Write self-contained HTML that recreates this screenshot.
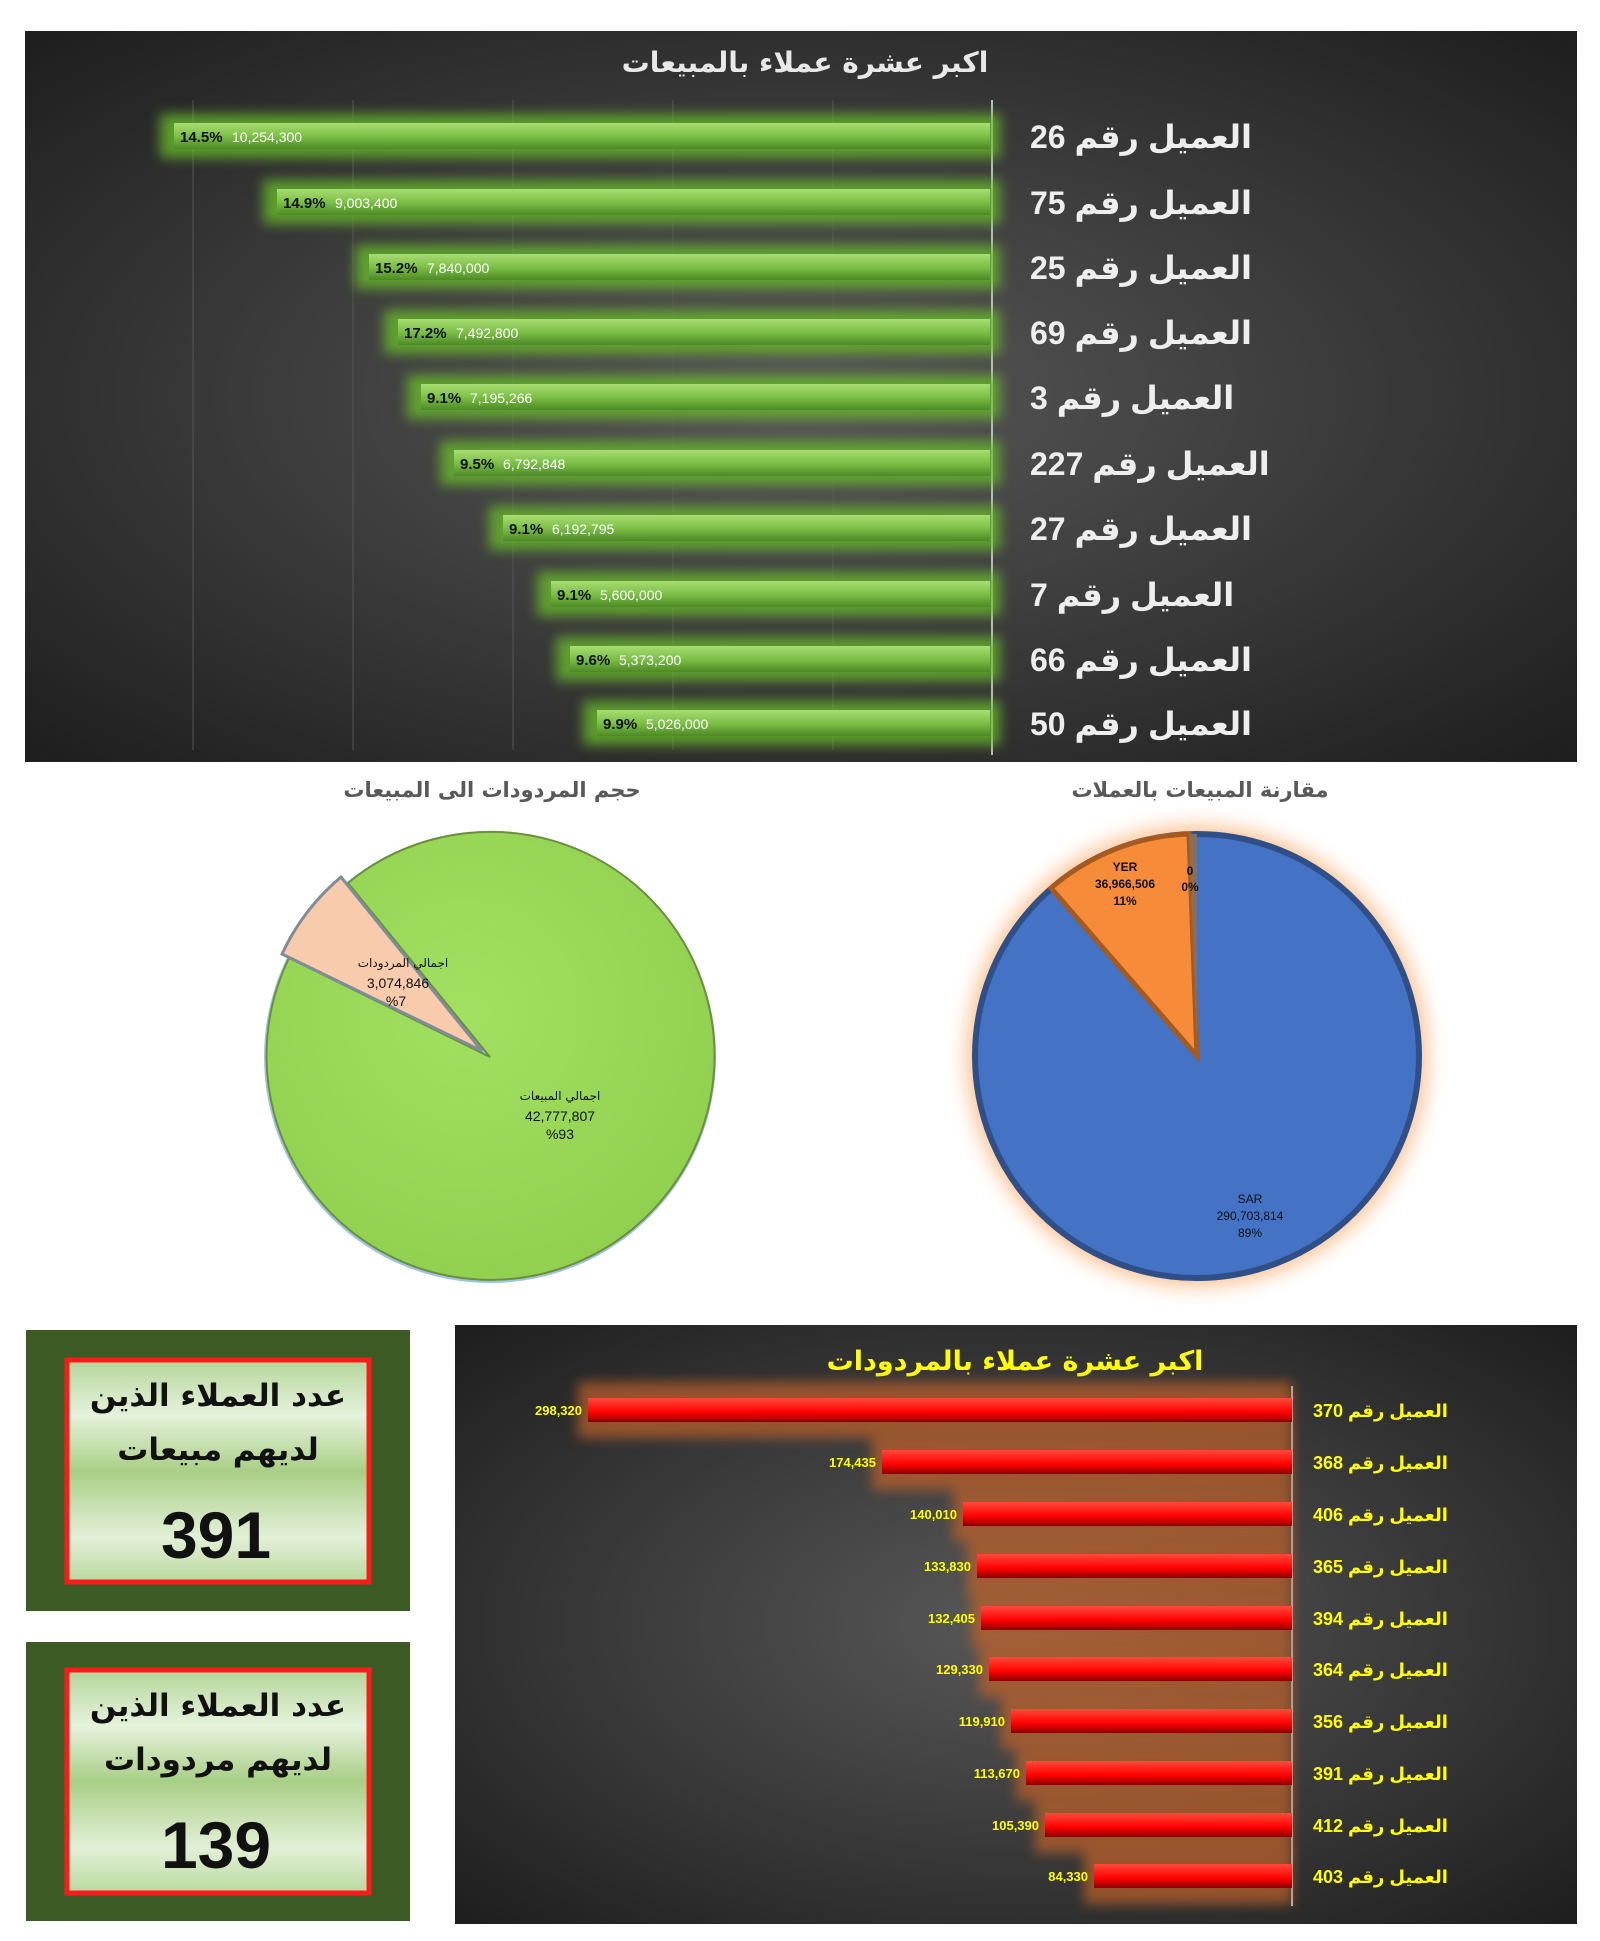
<!DOCTYPE html>
<html><head><meta charset="utf-8"><style>
body{margin:0;background:#fff;width:1600px;height:1941px;overflow:hidden}
svg{display:block}
</style></head><body>
<svg width="1600" height="1941" viewBox="0 0 1600 1941" xmlns="http://www.w3.org/2000/svg" font-family="'Liberation Sans','DejaVu Sans',sans-serif">
<defs>
<radialGradient id="dark" cx="50%" cy="50%" r="70%"><stop offset="0" stop-color="#585858"/><stop offset="1" stop-color="#1e1e1e"/></radialGradient>
<linearGradient id="gbar" x1="0" y1="0" x2="0" y2="1"><stop offset="0" stop-color="#a8dc72"/><stop offset="0.5" stop-color="#7cc047"/><stop offset="1" stop-color="#4d8a26"/></linearGradient>
<linearGradient id="rbar" x1="0" y1="0" x2="0" y2="1"><stop offset="0" stop-color="#ff4a3a"/><stop offset="0.6" stop-color="#ff0000"/><stop offset="1" stop-color="#8a0000"/></linearGradient>
<linearGradient id="box" x1="0" y1="0" x2="0" y2="1"><stop offset="0" stop-color="#b5d69a"/><stop offset="0.25" stop-color="#e6f2dc"/><stop offset="0.5" stop-color="#a9cf86"/><stop offset="0.8" stop-color="#e3f0d8"/><stop offset="1" stop-color="#b9d99d"/></linearGradient>
<filter id="blur" x="-20%" y="-50%" width="140%" height="200%"><feGaussianBlur stdDeviation="6"/></filter>
<filter id="blur2" x="-20%" y="-20%" width="140%" height="140%"><feGaussianBlur stdDeviation="10"/></filter>
<radialGradient id="pg" cx="45%" cy="40%" r="60%"><stop offset="0" stop-color="#a2e062"/><stop offset="1" stop-color="#92d050"/></radialGradient>
</defs>

<rect x="25" y="31" width="1552" height="731" fill="url(#dark)"/>
<text x="805" y="72" font-size="28" font-weight="bold" fill="#e8e8e8" text-anchor="middle" font-family="'DejaVu Sans',sans-serif">اكبر عشرة عملاء بالمبيعات</text>
<g stroke="#555" stroke-width="1">
<line x1="193" y1="100" x2="193" y2="750"/><line x1="353" y1="100" x2="353" y2="750"/><line x1="513" y1="100" x2="513" y2="750"/><line x1="673" y1="100" x2="673" y2="750"/><line x1="833" y1="100" x2="833" y2="750"/>
</g>
<line x1="992" y1="100" x2="992" y2="755" stroke="#bbb" stroke-width="2"/>
<g font-size="15">
<g transform="translate(0,136)"><rect x="160" y="-22" width="840" height="44" fill="#6abf2a" opacity=".75" filter="url(#blur)"/><rect x="174" y="-13" width="816" height="26" fill="url(#gbar)"/><text x="180" y="6" font-weight="bold" fill="#111">14.5%</text><text x="232" y="6" fill="#fff" font-size="14">10,254,300</text><text x="1030" y="12" font-size="32" font-weight="bold" fill="#eee">العميل رقم 26</text></g>
<g transform="translate(0,202)"><rect x="263" y="-22" width="737" height="44" fill="#6abf2a" opacity=".75" filter="url(#blur)"/><rect x="277" y="-13" width="713" height="26" fill="url(#gbar)"/><text x="283" y="6" font-weight="bold" fill="#111">14.9%</text><text x="335" y="6" fill="#fff" font-size="14">9,003,400</text><text x="1030" y="12" font-size="32" font-weight="bold" fill="#eee">العميل رقم 75</text></g>
<g transform="translate(0,267)"><rect x="355" y="-22" width="645" height="44" fill="#6abf2a" opacity=".75" filter="url(#blur)"/><rect x="369" y="-13" width="621" height="26" fill="url(#gbar)"/><text x="375" y="6" font-weight="bold" fill="#111">15.2%</text><text x="427" y="6" fill="#fff" font-size="14">7,840,000</text><text x="1030" y="12" font-size="32" font-weight="bold" fill="#eee">العميل رقم 25</text></g>
<g transform="translate(0,332)"><rect x="384" y="-22" width="616" height="44" fill="#6abf2a" opacity=".75" filter="url(#blur)"/><rect x="398" y="-13" width="592" height="26" fill="url(#gbar)"/><text x="404" y="6" font-weight="bold" fill="#111">17.2%</text><text x="456" y="6" fill="#fff" font-size="14">7,492,800</text><text x="1030" y="12" font-size="32" font-weight="bold" fill="#eee">العميل رقم 69</text></g>
<g transform="translate(0,397)"><rect x="407" y="-22" width="593" height="44" fill="#6abf2a" opacity=".75" filter="url(#blur)"/><rect x="421" y="-13" width="569" height="26" fill="url(#gbar)"/><text x="427" y="6" font-weight="bold" fill="#111">9.1%</text><text x="470" y="6" fill="#fff" font-size="14">7,195,266</text><text x="1030" y="12" font-size="32" font-weight="bold" fill="#eee">العميل رقم 3</text></g>
<g transform="translate(0,463)"><rect x="440" y="-22" width="560" height="44" fill="#6abf2a" opacity=".75" filter="url(#blur)"/><rect x="454" y="-13" width="536" height="26" fill="url(#gbar)"/><text x="460" y="6" font-weight="bold" fill="#111">9.5%</text><text x="503" y="6" fill="#fff" font-size="14">6,792,848</text><text x="1030" y="12" font-size="32" font-weight="bold" fill="#eee">العميل رقم 227</text></g>
<g transform="translate(0,528)"><rect x="489" y="-22" width="511" height="44" fill="#6abf2a" opacity=".75" filter="url(#blur)"/><rect x="503" y="-13" width="487" height="26" fill="url(#gbar)"/><text x="509" y="6" font-weight="bold" fill="#111">9.1%</text><text x="552" y="6" fill="#fff" font-size="14">6,192,795</text><text x="1030" y="12" font-size="32" font-weight="bold" fill="#eee">العميل رقم 27</text></g>
<g transform="translate(0,594)"><rect x="537" y="-22" width="463" height="44" fill="#6abf2a" opacity=".75" filter="url(#blur)"/><rect x="551" y="-13" width="439" height="26" fill="url(#gbar)"/><text x="557" y="6" font-weight="bold" fill="#111">9.1%</text><text x="600" y="6" fill="#fff" font-size="14">5,600,000</text><text x="1030" y="12" font-size="32" font-weight="bold" fill="#eee">العميل رقم 7</text></g>
<g transform="translate(0,659)"><rect x="556" y="-22" width="444" height="44" fill="#6abf2a" opacity=".75" filter="url(#blur)"/><rect x="570" y="-13" width="420" height="26" fill="url(#gbar)"/><text x="576" y="6" font-weight="bold" fill="#111">9.6%</text><text x="619" y="6" fill="#fff" font-size="14">5,373,200</text><text x="1030" y="12" font-size="32" font-weight="bold" fill="#eee">العميل رقم 66</text></g>
<g transform="translate(0,723)"><rect x="583" y="-22" width="417" height="44" fill="#6abf2a" opacity=".75" filter="url(#blur)"/><rect x="597" y="-13" width="393" height="26" fill="url(#gbar)"/><text x="603" y="6" font-weight="bold" fill="#111">9.9%</text><text x="646" y="6" fill="#fff" font-size="14">5,026,000</text><text x="1030" y="12" font-size="32" font-weight="bold" fill="#eee">العميل رقم 50</text></g>
</g>

<text x="492" y="797" font-size="21" font-weight="bold" fill="#595959" text-anchor="middle" font-family="'DejaVu Sans',sans-serif">حجم المردودات الى المبيعات</text>
<text x="1200" y="797" font-size="21" font-weight="bold" fill="#595959" text-anchor="middle" font-family="'DejaVu Sans',sans-serif">مقارنة المبيعات بالعملات</text>

<circle cx="490" cy="1057" r="226" fill="#9dc3e6"/>
<path d="M490,1057 L348,883 A224,224 0 1,1 289,958 Z" fill="url(#pg)" stroke="#6b8f3a" stroke-width="2"/>
<path d="M482,1051 L282,954 A224,224 0 0,1 341,877 Z" fill="#f8cbad" stroke="#7f8c99" stroke-width="3"/>
<g font-size="14" fill="#111" text-anchor="middle">
<text x="403" y="967" font-family="'DejaVu Sans',sans-serif" font-size="12">اجمالي المردودات</text>
<text x="398" y="988">3,074,846</text><text x="396" y="1006">%7</text>
<text x="560" y="1100" font-family="'DejaVu Sans',sans-serif" font-size="12">اجمالي المبيعات</text>
<text x="560" y="1121">42,777,807</text><text x="560" y="1139">%93</text>
</g>

<circle cx="1197" cy="1056" r="230" fill="#f79646" opacity=".6" filter="url(#blur2)"/>
<circle cx="1197" cy="1056" r="222" fill="#4472c4" stroke="#2f4f86" stroke-width="6"/>
<path d="M1197,1056 L1051,888 A222,222 0 0,1 1189,834 Z" fill="#f68c3a" stroke="#a65a1e" stroke-width="5"/>
<path d="M1197,1056 L1189,834 A222,222 0 0,1 1197,834 Z" fill="#8a6d5a"/>
<g font-size="12" fill="#111" text-anchor="middle" font-weight="bold">
<text x="1125" y="871">YER</text><text x="1125" y="888">36,966,506</text><text x="1125" y="905">11%</text>
<text x="1190" y="875">0</text><text x="1190" y="891">0%</text>
<text x="1250" y="1203" font-weight="normal">SAR</text><text x="1250" y="1220" font-weight="normal">290,703,814</text><text x="1250" y="1237" font-weight="normal">89%</text>
</g>

<rect x="26" y="1330" width="384" height="281" fill="#3c5a24"/>
<rect x="67" y="1360" width="302" height="222" fill="url(#box)" stroke="#ff1a1a" stroke-width="5"/>
<text x="218" y="1406" font-size="31" font-weight="bold" text-anchor="middle" fill="#111" font-family="'DejaVu Sans',sans-serif">عدد العملاء الذين</text>
<text x="218" y="1460" font-size="31" font-weight="bold" text-anchor="middle" fill="#111" font-family="'DejaVu Sans',sans-serif">لديهم مبيعات</text>
<text x="216" y="1558" font-size="66" font-weight="bold" text-anchor="middle" fill="#111">391</text>

<rect x="26" y="1642" width="384" height="279" fill="#3c5a24"/>
<rect x="67" y="1670" width="302" height="223" fill="url(#box)" stroke="#ff1a1a" stroke-width="5"/>
<text x="218" y="1716" font-size="31" font-weight="bold" text-anchor="middle" fill="#111" font-family="'DejaVu Sans',sans-serif">عدد العملاء الذين</text>
<text x="218" y="1770" font-size="31" font-weight="bold" text-anchor="middle" fill="#111" font-family="'DejaVu Sans',sans-serif">لديهم مردودات</text>
<text x="216" y="1868" font-size="66" font-weight="bold" text-anchor="middle" fill="#111">139</text>

<rect x="455" y="1325" width="1122" height="599" fill="url(#dark)"/>
<text x="1015" y="1370" font-size="27" font-weight="bold" fill="#ffff00" text-anchor="middle" font-family="'DejaVu Sans',sans-serif">اكبر عشرة عملاء بالمردودات</text>
<line x1="1292" y1="1386" x2="1292" y2="1906" stroke="#bbb" stroke-width="2"/>
<g font-size="13" font-weight="bold" fill="#ffff00">
<g transform="translate(0,1410)"><rect x="578" y="-28" width="714" height="56" fill="#c0622a" opacity=".7" filter="url(#blur)"/><rect x="588" y="-12" width="704" height="24" fill="url(#rbar)"/><text x="582" y="5" text-anchor="end">298,320</text><text x="1313" y="7" font-size="18">العميل رقم 370</text></g>
<g transform="translate(0,1462)"><rect x="872" y="-28" width="420" height="56" fill="#c0622a" opacity=".7" filter="url(#blur)"/><rect x="882" y="-12" width="410" height="24" fill="url(#rbar)"/><text x="876" y="5" text-anchor="end">174,435</text><text x="1313" y="7" font-size="18">العميل رقم 368</text></g>
<g transform="translate(0,1514)"><rect x="953" y="-28" width="339" height="56" fill="#c0622a" opacity=".7" filter="url(#blur)"/><rect x="963" y="-12" width="329" height="24" fill="url(#rbar)"/><text x="957" y="5" text-anchor="end">140,010</text><text x="1313" y="7" font-size="18">العميل رقم 406</text></g>
<g transform="translate(0,1566)"><rect x="967" y="-28" width="325" height="56" fill="#c0622a" opacity=".7" filter="url(#blur)"/><rect x="977" y="-12" width="315" height="24" fill="url(#rbar)"/><text x="971" y="5" text-anchor="end">133,830</text><text x="1313" y="7" font-size="18">العميل رقم 365</text></g>
<g transform="translate(0,1618)"><rect x="971" y="-28" width="321" height="56" fill="#c0622a" opacity=".7" filter="url(#blur)"/><rect x="981" y="-12" width="311" height="24" fill="url(#rbar)"/><text x="975" y="5" text-anchor="end">132,405</text><text x="1313" y="7" font-size="18">العميل رقم 394</text></g>
<g transform="translate(0,1669)"><rect x="979" y="-28" width="313" height="56" fill="#c0622a" opacity=".7" filter="url(#blur)"/><rect x="989" y="-12" width="303" height="24" fill="url(#rbar)"/><text x="983" y="5" text-anchor="end">129,330</text><text x="1313" y="7" font-size="18">العميل رقم 364</text></g>
<g transform="translate(0,1721)"><rect x="1001" y="-28" width="291" height="56" fill="#c0622a" opacity=".7" filter="url(#blur)"/><rect x="1011" y="-12" width="281" height="24" fill="url(#rbar)"/><text x="1005" y="5" text-anchor="end">119,910</text><text x="1313" y="7" font-size="18">العميل رقم 356</text></g>
<g transform="translate(0,1773)"><rect x="1016" y="-28" width="276" height="56" fill="#c0622a" opacity=".7" filter="url(#blur)"/><rect x="1026" y="-12" width="266" height="24" fill="url(#rbar)"/><text x="1020" y="5" text-anchor="end">113,670</text><text x="1313" y="7" font-size="18">العميل رقم 391</text></g>
<g transform="translate(0,1825)"><rect x="1035" y="-28" width="257" height="56" fill="#c0622a" opacity=".7" filter="url(#blur)"/><rect x="1045" y="-12" width="247" height="24" fill="url(#rbar)"/><text x="1039" y="5" text-anchor="end">105,390</text><text x="1313" y="7" font-size="18">العميل رقم 412</text></g>
<g transform="translate(0,1876)"><rect x="1084" y="-28" width="208" height="56" fill="#c0622a" opacity=".7" filter="url(#blur)"/><rect x="1094" y="-12" width="198" height="24" fill="url(#rbar)"/><text x="1088" y="5" text-anchor="end">84,330</text><text x="1313" y="7" font-size="18">العميل رقم 403</text></g>
</g>
</svg>
</body></html>
